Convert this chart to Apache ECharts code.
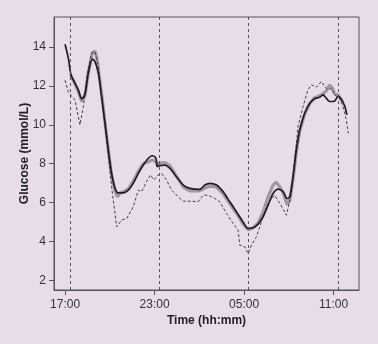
<!DOCTYPE html>
<html>
<head>
<meta charset="utf-8">
<script src="https://cdn.jsdelivr.net/npm/echarts@6/dist/echarts.min.js"></script>
<style>
  html, body { margin: 0; padding: 0; background: #e6dde9; }
  #main { width: 378px; height: 344px; }
</style>
</head>
<body>
<div id="main"></div>
<script>
// x = hours after 17:00
const tickHours = [0, 6, 12, 18];
const tickLabels = ['17:00', '23:00', '05:00', '11:00'];
const yTicks = [2, 4, 6, 8, 10, 12, 14];
const markerHours = [0.33, 6.28, 12.27, 18.28];

const meanLine = [
  [0, 14.15], [0.22, 13.43], [0.4, 12.57], [0.67, 12.14], [0.89, 11.8], [1.12, 11.34],
  [1.34, 11.6], [1.56, 12.66], [1.83, 13.38], [2.0, 13.26], [2.23, 12.66], [2.45, 11.46],
  [2.68, 10.08], [2.9, 8.7], [3.12, 7.5], [3.35, 6.73], [3.57, 6.5], [3.9, 6.5],
  [4.24, 6.64], [4.57, 6.99], [4.91, 7.5], [5.24, 7.93], [5.58, 8.28], [5.84, 8.41],
  [6.09, 8.28], [6.18, 7.85], [6.31, 7.9], [6.69, 7.93], [7.03, 7.76], [7.47, 7.33],
  [7.92, 6.9], [8.36, 6.73], [9.03, 6.68], [9.37, 6.9], [9.7, 6.99], [10.15, 6.9],
  [10.6, 6.55], [11.04, 6.04], [11.49, 5.52], [11.93, 5.0], [12.27, 4.67], [12.6, 4.7],
  [12.94, 4.89], [13.27, 5.27], [13.61, 5.87], [13.94, 6.47], [14.28, 6.69], [14.61, 6.56],
  [14.88, 6.21], [15.06, 6.3], [15.28, 7.33], [15.5, 8.7], [15.73, 9.74], [16.06, 10.6],
  [16.4, 11.11], [16.73, 11.34], [17.06, 11.42], [17.29, 11.54], [17.51, 11.37], [17.73, 11.2],
  [18.07, 11.23], [18.29, 11.46], [18.51, 11.32], [18.74, 10.97], [18.89, 10.51]
];

const grayLine = [
  [0.35, 12.6], [0.67, 12.1], [0.89, 11.7], [1.12, 11.2], [1.34, 11.5], [1.56, 12.7],
  [1.83, 13.7], [2.0, 13.8], [2.12, 13.5], [2.23, 12.9], [2.45, 11.6], [2.68, 10.1],
  [2.9, 8.7], [3.12, 7.4], [3.35, 6.6], [3.5, 6.3], [3.7, 6.5], [3.9, 6.55],
  [4.24, 6.7], [4.57, 7.1], [4.91, 7.6], [5.24, 8.0], [5.58, 8.1], [5.84, 8.2],
  [6.09, 8.1], [6.18, 7.95], [6.4, 8.05], [6.7, 8.05], [7.03, 7.9], [7.47, 7.35],
  [7.92, 6.8], [8.36, 6.6], [9.03, 6.6], [9.37, 6.75], [9.7, 6.85], [10.15, 6.8],
  [10.6, 6.45], [11.04, 5.95], [11.49, 5.45], [11.93, 4.9], [12.27, 4.6], [12.6, 4.7],
  [12.94, 4.95], [13.27, 5.5], [13.61, 6.3], [13.94, 6.9], [14.15, 7.05], [14.4, 6.8],
  [14.61, 6.5], [14.88, 5.9], [15.06, 6.1], [15.28, 7.2], [15.5, 8.6], [15.73, 9.7],
  [16.06, 10.55], [16.4, 11.1], [16.73, 11.4], [17.06, 11.5], [17.29, 11.6], [17.51, 11.75],
  [17.73, 12.05], [17.9, 11.9], [18.07, 11.6], [18.29, 11.55], [18.51, 11.3], [18.6, 11.2]
];

const dashedLine = [
  [0, 12.3], [0.22, 11.7], [0.45, 11.46], [0.67, 11.28], [1.0, 10.0], [1.23, 10.94],
  [1.49, 12.66], [1.78, 13.69], [2.0, 13.78], [2.23, 13.0], [2.45, 11.46], [2.79, 9.22],
  [3.12, 6.81], [3.46, 4.75], [3.79, 5.1], [4.13, 5.18], [4.57, 5.78], [4.91, 6.64],
  [5.13, 6.56], [5.46, 7.07], [5.73, 7.42], [5.96, 7.16], [6.24, 7.42], [6.47, 7.5],
  [6.8, 7.16], [7.14, 6.64], [7.58, 6.3], [7.92, 6.07], [8.48, 6.07], [8.92, 6.04],
  [9.26, 6.38], [9.59, 6.38], [10.04, 6.21], [10.37, 6.04], [10.82, 5.44], [11.27, 4.92],
  [11.6, 4.58], [11.71, 3.81], [12.05, 3.72], [12.27, 3.38], [12.49, 3.81], [12.83, 4.24],
  [13.27, 5.27], [13.61, 5.96], [14.05, 6.38], [14.39, 5.96], [14.83, 5.35], [15.17, 6.47],
  [15.39, 8.19], [15.61, 9.91], [15.95, 10.94], [16.28, 11.8], [16.51, 12.06], [16.84, 11.94],
  [17.18, 12.23], [17.4, 11.97], [17.62, 11.8], [17.85, 11.88], [18.07, 11.54], [18.4, 11.37],
  [18.63, 10.94], [18.85, 10.25], [18.98, 9.56]
];

const chart = echarts.init(document.getElementById('main'), null, {renderer: 'canvas'});

const textStyle = {fontFamily: 'Liberation Sans, Arial, sans-serif', color: '#333', fontSize: 12};

const option = {
  backgroundColor: '#e6dde9',
  animation: false,
  grid: {
    left: 54, right: 19, top: 17, bottom: 54,
    show: true, borderColor: '#555', borderWidth: 1
  },
  xAxis: {
    type: 'value',
    min: -0.74, max: 19.7,
    splitLine: {show: false},
    axisLine: {show: true, onZero: false, lineStyle: {color: '#555'}},
    axisTick: {show: true, length: 5, customValues: tickHours, lineStyle: {color: '#555'}},
    axisLabel: {
      customValues: tickHours, margin: 9, ...textStyle,
      formatter: v => tickLabels[tickHours.indexOf(v)] || ''
    },
    name: 'Time (hh:mm)', nameLocation: 'middle', nameGap: 25, nameMoveOverlap: false,
    nameTextStyle: {...textStyle, fontWeight: 'bold', color: '#222'}
  },
  yAxis: {
    type: 'value',
    min: 1.5, max: 15.55,
    splitLine: {show: false},
    axisLine: {show: true, onZero: false, lineStyle: {color: '#555'}},
    axisTick: {show: true, length: 5, customValues: yTicks, lineStyle: {color: '#555'}},
    axisLabel: {customValues: yTicks, margin: 8, ...textStyle},
    name: 'Glucose (mmol/L)', nameLocation: 'middle', nameGap: 23, nameMoveOverlap: false,
    nameTextStyle: {...textStyle, fontWeight: 'bold', color: '#222'}
  },
  series: [
    {
      name: 'markers', type: 'line', data: [], silent: true,
      markLine: {
        symbol: 'none', silent: true, label: {show: false},
        lineStyle: {color: '#555', width: 1, type: [3, 3]},
        data: markerHours.map(h => ({xAxis: h}))
      }
    },
    {
      name: 'gray', type: 'line', data: grayLine, symbol: 'none',
      lineStyle: {color: '#9d9a9f', width: 3.2}
    },
    {
      name: 'dashed', type: 'line', data: dashedLine, symbol: 'none',
      lineStyle: {color: '#444', width: 1, type: [3, 2]}
    },
    {
      name: 'mean', type: 'line', data: meanLine, symbol: 'none', smooth: 0.3,
      lineStyle: {color: '#1e1e1e', width: 1.7}
    }
  ]
};

chart.setOption(option);
</script>
</body>
</html>
